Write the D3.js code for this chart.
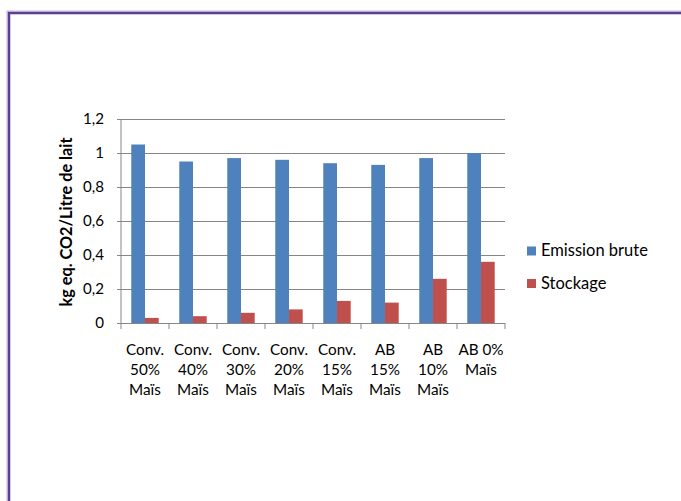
<!DOCTYPE html>
<html>
<head>
<meta charset="utf-8">
<script src="https://cdn.jsdelivr.net/npm/d3@7"></script>
<style>
  html, body { margin: 0; padding: 0; background: #fff; }
  svg { display: block; }
  text { font-family: Lato, "Open Sans", "Liberation Sans", sans-serif; fill: #000; }
</style>
</head>
<body>
<svg id="chart" width="681" height="501"></svg>
<script>
// Farm systems compared (label lines split by "\n")
const categories = [
  "Conv.\n50%\nMaïs",
  "Conv.\n40%\nMaïs",
  "Conv.\n30%\nMaïs",
  "Conv.\n20%\nMaïs",
  "Conv.\n15%\nMaïs",
  "AB\n15%\nMaïs",
  "AB\n10%\nMaïs",
  "AB 0%\nMaïs"
];
const seriesNames = ["Emission brute", "Stockage"];
const emissionBrute = [1.05, 0.95, 0.97, 0.96, 0.94, 0.93, 0.97, 1.00];
const stockage      = [0.03, 0.04, 0.06, 0.08, 0.13, 0.12, 0.26, 0.36];
const yTicks = [0, 0.2, 0.4, 0.6, 0.8, 1, 1.2];
const yTitle = "kg eq. CO2/Litre de lait";

const colors = { "Emission brute": "#4f81bd", "Stockage": "#c0504d" };
const values = { "Emission brute": emissionBrute, "Stockage": stockage };

const svg = d3.select("#chart");

// font size giving a sample string the wanted width
function fitSize(sample, width, weight) {
  const t = svg.append("text").attr("font-size", "100px")
    .attr("font-weight", weight || "normal").text(sample);
  const w = t.node().getComputedTextLength();
  t.remove();
  return 100 * width / w;
}
const catSize = fitSize("Conv.", 38);
const tickSize = fitSize("1,2", 21);
const legSize = fitSize("Emission brute", 107);
const titleSize = fitSize(yTitle, 169, "bold");

// outer frame
svg.append("rect")
  .attr("x", 8.5).attr("y", 12.5)
  .attr("width", 720).attr("height", 520)
  .attr("fill", "none")
  .attr("stroke", "#c9b8e3").attr("stroke-width", 4);
svg.append("rect")
  .attr("x", 9).attr("y", 13)
  .attr("width", 720).attr("height", 520)
  .attr("fill", "none")
  .attr("stroke", "#5c3f8f").attr("stroke-width", 2.2);

const plot = { left: 121, right: 505, top: 119, bottom: 323 };

const x0 = d3.scaleBand().domain(categories).range([plot.left, plot.right]).paddingInner(0).paddingOuter(0);
const x1 = d3.scaleBand().domain(seriesNames).range([0, x0.bandwidth()]).paddingInner(0).paddingOuter(0.75);
const y = d3.scaleLinear().domain([0, 1.2]).range([plot.bottom, plot.top]);

const fmt = d => String(+d.toFixed(1)).replace(".", ",");

// gridlines + y axis
const yAxis = d3.axisLeft(y).tickValues(yTicks).tickFormat(fmt)
  .tickSize(-(plot.right - plot.left)).tickPadding(17);
const gy = svg.append("g").attr("transform", `translate(${plot.left},0)`).call(yAxis);
gy.select(".domain").remove();
gy.selectAll(".tick line")
  .attr("x1", -4)
  .attr("stroke", "#868686").attr("stroke-width", 1);
gy.selectAll(".tick text")
  .attr("font-size", tickSize + "px").attr("fill", "#000");
gy.attr("font-family", null).attr("font-size", null);
gy.append("line")
  .attr("x1", 0).attr("x2", 0).attr("y1", plot.top).attr("y2", plot.bottom)
  .attr("stroke", "#868686");

// bars
const groups = svg.append("g").selectAll("g")
  .data(categories)
  .join("g")
  .attr("transform", d => `translate(${x0(d)},0)`);

groups.selectAll("rect")
  .data((d, i) => seriesNames.map(s => ({ s, v: values[s][i] })))
  .join("rect")
  .attr("x", d => x1(d.s))
  .attr("y", d => y(d.v))
  .attr("width", x1.bandwidth())
  .attr("height", d => y(0) - y(d.v))
  .attr("fill", d => colors[d.s]);

// x axis
const xAxis = d3.axisBottom(x0).tickSize(0).tickFormat("");
const gx = svg.append("g").attr("transform", `translate(0,${plot.bottom})`).call(xAxis);
gx.select(".domain").attr("stroke", "#868686").attr("d", `M${plot.left - 4},0.5H${plot.right}`);
// category separators
const bounds = categories.map(c => x0(c)).concat([plot.right]);
gx.selectAll("line.sep").data(bounds).join("line")
  .attr("class", "sep")
  .attr("x1", d => d).attr("x2", d => d)
  .attr("y1", 0).attr("y2", 6)
  .attr("stroke", "#868686");

// multi-line category labels
const lab = svg.append("g").selectAll("text")
  .data(categories)
  .join("text")
  .attr("text-anchor", "middle")
  .attr("font-size", catSize + "px")
  .attr("transform", d => `translate(${x0(d) + x0.bandwidth() / 2},354.5)`);
lab.selectAll("tspan")
  .data(d => d.split("\n"))
  .join("tspan")
  .attr("x", 0)
  .attr("y", (d, i) => i * 20.4)
  .text(d => d);

// y title
svg.append("text")
  .attr("transform", `translate(72,222) rotate(-90)`)
  .attr("text-anchor", "middle")
  .attr("font-size", titleSize + "px")
  .attr("font-weight", "bold")
  .text(yTitle);

// legend
const leg = svg.append("g").selectAll("g")
  .data(seriesNames)
  .join("g")
  .attr("transform", (d, i) => `translate(527,${246.5 + i * 32.5})`);
leg.append("rect")
  .attr("width", 9).attr("height", 9)
  .attr("fill", d => colors[d]);
leg.append("text")
  .attr("x", 14).attr("y", 9.5)
  .attr("font-size", legSize + "px")
  .text(d => d);
</script>
</body>
</html>
